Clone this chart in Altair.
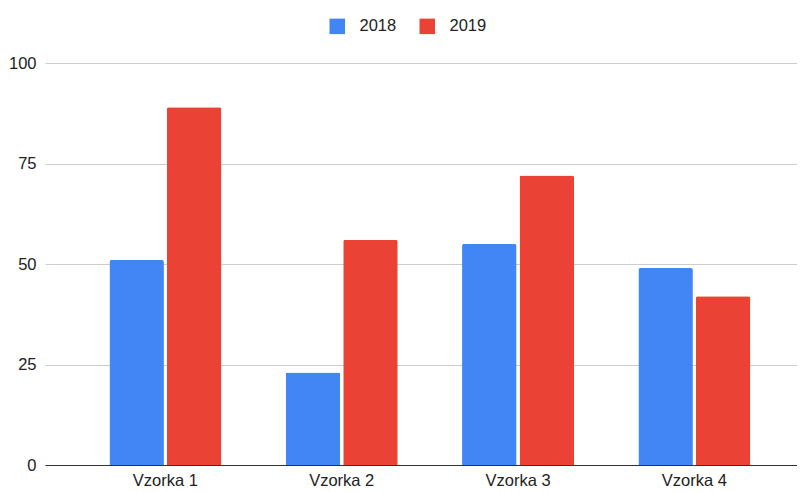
import altair as alt
import pandas as pd

categories = ["Vzorka 1", "Vzorka 2", "Vzorka 3", "Vzorka 4"]
series = ["2018", "2019"]
values_2018 = [51, 23, 55, 49]
values_2019 = [89, 56, 72, 42]
colors = ["#4285F4", "#EA4335"]

rows = []
for c, a, b in zip(categories, values_2018, values_2019):
    rows.append({"Vzorka": c, "Rok": "2018", "Hodnota": a})
    rows.append({"Vzorka": c, "Rok": "2019", "Hodnota": b})
df = pd.DataFrame(rows)

font = "Liberation Sans"
fs = 16.5

chart = alt.Chart(df).mark_bar(cornerRadiusTopLeft=2, cornerRadiusTopRight=2).encode(
    x=alt.X("Vzorka:N", sort=categories, title=None,
            scale=alt.Scale(paddingInner=0.365, paddingOuter=0.315, align=0.58),
            axis=alt.Axis(labelAngle=0, ticks=False, domainColor="#333333", domainWidth=1,
                          labelFont=font, labelFontSize=fs, labelColor="#222222", labelPadding=7)),
    xOffset=alt.XOffset("Rok:N", sort=series, scale=alt.Scale(paddingInner=0.052)),
    y=alt.Y("Hodnota:Q", title=None,
            scale=alt.Scale(domain=[0, 100]),
            axis=alt.Axis(values=[0, 25, 50, 75, 100], ticks=False, domain=False,
                          gridColor="#cccccc", labelFont=font, labelFontSize=fs,
                          labelColor="#222222", labelPadding=9)),
    color=alt.Color("Rok:N", sort=series,
                    scale=alt.Scale(domain=series, range=colors),
                    legend=alt.Legend(title=None, orient="none", direction="horizontal",
                                      legendX=284, legendY=-45, symbolType="square",
                                      symbolSize=240, symbolStrokeWidth=0, labelFont=font,
                                      labelFontSize=fs, labelColor="#222222",
                                      columnPadding=22, labelOffset=14)),
).properties(width=752, height=402, padding={"left": 0, "top": 10, "right": 0, "bottom": 0}).configure_view(
    stroke=None
)

chart.save("out.html", embed_options={"renderer": "svg", "actions": False})
